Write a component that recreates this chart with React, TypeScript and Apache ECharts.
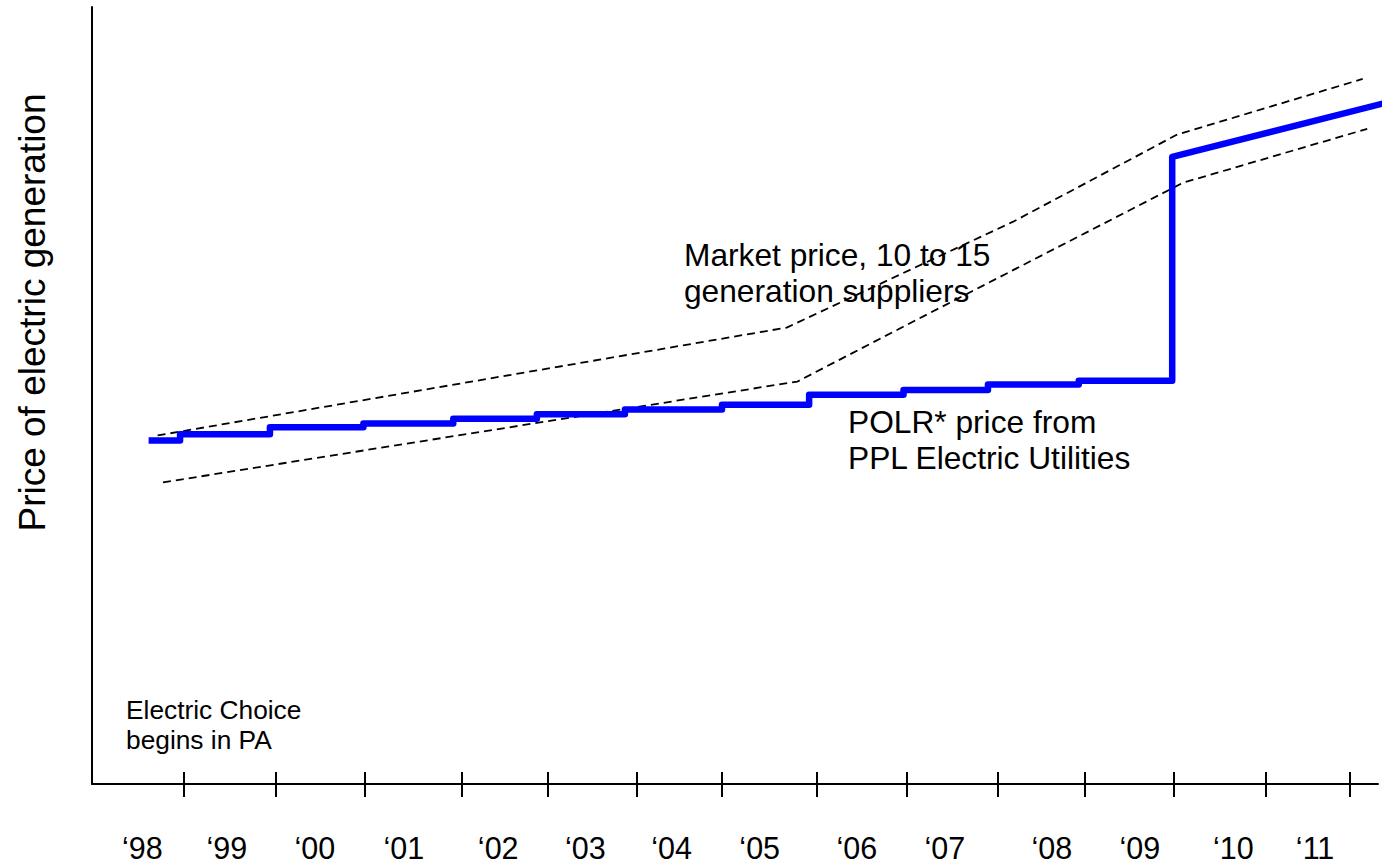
import React, { useEffect, useRef } from "react";
import * as echarts from "echarts";

// Year-boundary tick positions (fractional years)
const tickYears = [1999.02, 2000.04, 2001.04, 2002.11, 2003.07, 2004.06, 2005.01, 2006.07, 2007.07, 2008.08, 2009.05, 2010.04, 2011.06, 2012.0];
// Year label positions and texts
const labelYears = [1998.56, 1999.5, 2000.48, 2001.47, 2002.52, 2003.49, 2004.45, 2005.43, 2006.51, 2007.49, 2008.68, 2009.66, 2010.7, 2011.61];
const yearLabels = ["\u201898", "\u201899", "\u201800", "\u201801", "\u201802", "\u201803", "\u201804", "\u201805", "\u201806", "\u201807", "\u201808", "\u201809", "\u201810", "\u201811"];

// POLR price: step change years and the price level after each change
const polrStepYears = [1998.63, 1998.98, 1999.98, 2001.02, 2002.02, 2002.95, 2003.93, 2005.01, 2005.98, 2007.03, 2007.97, 2008.98, 2010.02];
const polrStepPrices = [44.2, 45.0, 45.9, 46.4, 47.0, 47.6, 48.2, 48.8, 50.1, 50.7, 51.4, 51.9, 80.7];
const polrEnd = [2012.44, 87.8];

// Market price band
const upperYears = [1998.73, 2005.73, 2008.25, 2010.07, 2012.14];
const upperPrices = [44.86, 58.74, 72.37, 83.55, 90.75];
const lowerYears = [1998.79, 2005.85, 2007.18, 2010.14, 2012.19];
const lowerPrices = [38.82, 51.8, 59.77, 77.38, 84.32];

const FONT = "'Liberation Sans', Arial, Helvetica, sans-serif";

function buildPolr(): number[][] {
  const pts: number[][] = [[polrStepYears[0], polrStepPrices[0]]];
  for (let i = 1; i < polrStepYears.length; i++) {
    pts.push([polrStepYears[i], polrStepPrices[i - 1]]);
    pts.push([polrStepYears[i], polrStepPrices[i]]);
  }
  pts.push(polrEnd);
  return pts;
}

export default function App() {
  const ref = useRef<HTMLDivElement>(null);
  useEffect(() => {
    if (!ref.current) return;
    const chart = echarts.init(ref.current, undefined, { renderer: "svg" });
    const xMin = 1998;
    const xMax = 2012.31;
    const option: any = {
      animation: false,
      backgroundColor: "#ffffff",
      grid: { left: 92, right: 14, top: 7, bottom: 78, containLabel: false },
      xAxis: [
        {
          type: "value",
          min: xMin,
          max: xMax,
          axisLine: { show: true, lineStyle: { color: "#000", width: 2 } },
          axisTick: { show: true, inside: false, length: 13, lineStyle: { color: "#000", width: 2 }, customValues: tickYears },
          axisLabel: {
            show: true,
            customValues: labelYears,
            margin: 48,
            fontSize: 30.5,
            color: "#000",
            fontFamily: FONT,
            formatter: (v: number) => {
              const i = labelYears.findIndex((y) => Math.abs(y - v) < 1e-6);
              return i >= 0 ? yearLabels[i] : "";
            },
          },
          splitLine: { show: false },
        },
        {
          type: "value",
          min: xMin,
          max: xMax,
          position: "bottom",
          axisLine: { show: false },
          axisTick: { show: true, inside: true, length: 12, lineStyle: { color: "#000", width: 2 }, customValues: tickYears },
          axisLabel: { show: false },
          splitLine: { show: false },
        },
      ],
      yAxis: {
        type: "value",
        min: 0,
        max: 100,
        axisLine: { show: true, lineStyle: { color: "#000", width: 2 } },
        axisTick: { show: false },
        axisLabel: { show: false },
        splitLine: { show: false },
      },
      series: [
        {
          type: "line",
          data: upperYears.map((x, i) => [x, upperPrices[i]]),
          symbol: "none",
          clip: false,
          lineStyle: { color: "#000", width: 1.8, type: [8, 5] },
          z: 2,
        },
        {
          type: "line",
          data: lowerYears.map((x, i) => [x, lowerPrices[i]]),
          symbol: "none",
          clip: false,
          lineStyle: { color: "#000", width: 1.8, type: [8, 5] },
          z: 2,
        },
        {
          type: "line",
          data: buildPolr(),
          symbol: "none",
          clip: false,
          lineStyle: { color: "#0000ff", width: 6.5, join: "round", cap: "butt" },
          z: 3,
        },
      ],
      graphic: [
        {
          type: "text",
          x: 32,
          y: 312.5,
          rotation: Math.PI / 2,
          style: {
            text: "Price of electric generation",
            fontSize: 37,
            fontFamily: FONT,
            fill: "#000",
            textAlign: "center",
            verticalAlign: "middle",
          },
        },
        {
          type: "text",
          x: 684,
          y: 237,
          style: {
            text: "Market price, 10 to 15\ngeneration suppliers",
            fontSize: 31.7,
            lineHeight: 36,
            fontFamily: FONT,
            fill: "#000",
            textAlign: "left",
            verticalAlign: "top",
          },
          z: 10,
        },
        {
          type: "text",
          x: 848,
          y: 403.5,
          style: {
            text: "POLR* price from\nPPL Electric Utilities",
            fontSize: 31.7,
            lineHeight: 36.6,
            fontFamily: FONT,
            fill: "#000",
            textAlign: "left",
            verticalAlign: "top",
          },
          z: 10,
        },
        {
          type: "text",
          x: 126,
          y: 694.5,
          style: {
            text: "Electric Choice\nbegins in PA",
            fontSize: 26.3,
            lineHeight: 30,
            fontFamily: FONT,
            fill: "#000",
            textAlign: "left",
            verticalAlign: "top",
          },
          z: 10,
        },
      ],
    };
    chart.setOption(option);
    return () => chart.dispose();
  }, []);
  return (
    <div
      ref={ref}
      style={{ position: "fixed", left: 0, top: 0, width: 1392, height: 863, background: "#fff" }}
    />
  );
}
